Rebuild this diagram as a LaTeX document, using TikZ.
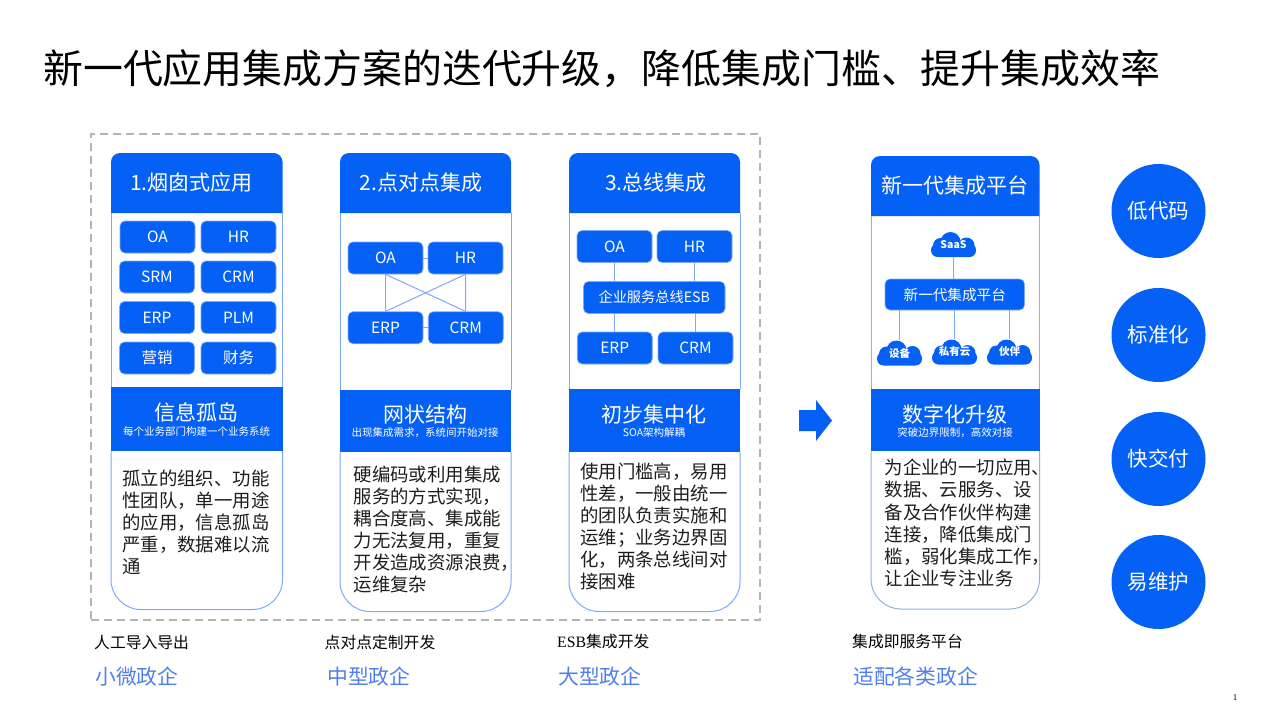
\documentclass[tikz,border=0pt]{standalone}
\usepackage{fontspec}
\setmainfont{Noto Sans CJK SC}
\newfontfamily\latinserif{Liberation Serif}
\definecolor{mainblue}{HTML}{0561F6}
\definecolor{edgeblue}{HTML}{7FAAF5}
\definecolor{edgegray}{HTML}{93B2D6}
\definecolor{dashgray}{HTML}{B4B4B4}
\definecolor{tierblue}{HTML}{4F7FEC}
\definecolor{bodyink}{HTML}{1E1E1E}
\newcommand{\fs}[2]{\fontsize{#1pt}{#2pt}\selectfont}
\tikzset{
  x=1pt,y=-1pt,
  appbox/.style={fill=mainblue,draw=edgeblue,line width=0.6pt,rounded corners=5pt,text=white,font=\fs{15.5}{19},inner sep=0pt,minimum height=32pt,minimum width=75pt},
  wire/.style={draw=edgeblue,line width=1pt},
  headtext/.style={text=white,font=\fs{21}{26},inner sep=0pt},
  bartext/.style={text=white,font=\fs{21}{24},inner sep=0pt},
  subtext/.style={text=white,font=\fs{10.5}{12},inner sep=0pt},
  bodytext/.style={text=bodyink,font=\fs{18.4}{22.1},align=left,anchor=west,inner sep=0pt},
  methodtext/.style={text=black,font=\fs{15.8}{18},anchor=west,inner sep=0pt},
  tiertext/.style={text=tierblue,font=\fs{20.8}{24},anchor=west,inner sep=0pt},
  roundtag/.style={circle,fill=mainblue,text=white,font=\fs{20.5}{24},inner sep=0pt,minimum size=94pt},
  cloudtext/.style={text=white,font=\fs{10.5}{12}\bfseries,inner sep=0pt,minimum width=45pt,minimum height=25pt},
}
% x1 x2 top headerBottom barTop barBottom bottom edgeColour
\newcommand{\panel}[8]{%
  \fill[white] (#1,#4) rectangle (#2,#5);
  \draw[#8,line width=1pt] (#1,#4) -- (#1,#5) (#2,#4) -- (#2,#5);
  \fill[mainblue,rounded corners=9pt] (#1,#4) -- (#1,#3) -- (#2,#3) -- (#2,#4);
  \fill[white] (#1,#6) -- (#2,#6) -- (#2,#7) -- (#1,#7) -- cycle;
  \draw[#8,line width=1pt,rounded corners=30pt] (#1,#6) -- (#1,#7) -- (#2,#7) -- (#2,#6);
  \fill[mainblue] (#1,#5) rectangle (#2,#6);
}
% name x y text
\newcommand{\cloudnode}[4]{%
  \begin{scope}[shift={(#2,#3)}]
    \fill[mainblue,rounded corners=6.5pt] (-22.5,-1) rectangle (22.5,12.5);
    \fill[mainblue] (-3,-2.5) circle (10);
    \fill[mainblue] (-13,1) circle (7.5);
    \fill[mainblue] (13,1) circle (8);
  \end{scope}
  \node[cloudtext] (#1) at (#2,#3) {\raisebox{-1.5pt}{#4}};
}
\begin{document}
\begin{tikzpicture}
\useasboundingbox (0,0) rectangle (1280,720);
\fill[white] (0,0) rectangle (1280,720);

\node[anchor=west,inner sep=0pt,text=black,font=\fs{39.9}{46}] (title) at (43,69) {新一代应用集成方案的迭代升级，降低集成门槛、提升集成效率};

\node[draw=dashgray,line width=1.4pt,dash pattern=on 8pt off 5pt,inner sep=0pt,minimum width=669pt,minimum height=486pt] (frame) at (425.5,377) {};

\panel{111}{282.5}{153}{213}{387}{450.5}{609.5}{edgeblue}
\panel{340}{511}{153}{213}{389.5}{452}{611.5}{edgeblue}
\panel{569}{740}{153}{213}{389}{451.5}{611.5}{edgeblue}
\panel{871}{1039.5}{156}{216}{389}{451}{609}{edgegray}

% column 1
\node[headtext] (h1) at (191.5,183) {1.烟囱式应用};
\node[appbox] (a1) at (157.5,237) {OA};
\node[appbox] (a2) at (238.5,237) {HR};
\node[appbox] (a3) at (157,277) {SRM};
\node[appbox] (a4) at (238.5,277) {CRM};
\node[appbox] (a5) at (157,317.5) {ERP};
\node[appbox] (a6) at (238.5,317.5) {PLM};
\node[appbox] (a7) at (157,358) {营销};
\node[appbox] (a8) at (238.5,358) {财务};
\node[bartext] (b1) at (196,412) {信息孤岛};
\node[subtext] (s1) at (196.5,431) {每个业务部门构建一个业务系统};
\node[bodytext] (t1) at (122,522.5) {孤立的组织、功能\\性团队，单一用途\\的应用，信息孤岛\\严重，数据难以流\\通};

% column 2
\node[headtext] (h2) at (421,183) {2.点对点集成};
\node[appbox] (c1) at (385.5,258) {OA};
\node[appbox] (c2) at (465.5,258) {HR};
\node[appbox] (c3) at (385.5,327.75) {ERP};
\node[appbox] (c4) at (465.75,327.75) {CRM};
\draw[wire] (c1) -- (c2);
\draw[wire] (c3) -- (c4);
\draw[wire] (c1.south) -- (c3.north);
\draw[wire] (c2.south) -- (c4.north);
\draw[wire] (c1.south) -- (c4.north);
\draw[wire] (c2.south) -- (c3.north);
\node[bartext] (b2) at (425,414.5) {网状结构};
\node[subtext] (s2) at (425,433) {出现集成需求，系统间开始对接};
\node[bodytext] (t2) at (353.5,529.5) {硬编码或利用集成\\服务的方式实现，\\耦合度高、集成能\\力无法复用，重复\\开发造成资源浪费，\\运维复杂};

% column 3
\node[headtext] (h3) at (656,183) {3.总线集成};
\node[appbox] (e1) at (614.5,246.5) {OA};
\node[appbox] (e2) at (694.5,246.5) {HR};
\node[appbox,minimum width=141.5pt] (e0) at (654.25,297.5) {\fs{14.2}{18}企业服务总线ESB};
\node[appbox] (e3) at (614.75,348) {ERP};
\node[appbox] (e4) at (695.5,348) {CRM};
\draw[wire] (e1.south) -- (e1.south |- e0.north);
\draw[wire] (e2.south) -- (e2.south |- e0.north);
\draw[wire] (e3.north |- e0.south) -- (e3.north);
\draw[wire] (e4.north |- e0.south) -- (e4.north);
\node[bartext] (b3) at (654,414.5) {初步集中化};
\node[subtext] (s3) at (654,433) {SOA架构解耦};
\node[bodytext] (t3) at (580,526.5) {使用门槛高，易用\\性差，一般由统一\\的团队负责实施和\\运维；业务边界固\\化，两条总线间对\\接困难};

% column 4
\node[headtext] (h4) at (955,186) {新一代集成平台};
\node[appbox,minimum width=139.5pt,minimum height=31pt] (p0) at (954.75,294.5) {\fs{14.6}{18}新一代集成平台};
\cloudnode{c0}{953.5}{244.5}{SaaS}
\cloudnode{d1}{899.5}{353}{设备}
\cloudnode{d2}{954.5}{352}{私有云}
\cloudnode{d3}{1009.5}{352}{伙伴}
\draw[wire] (c0.south) -- (c0.south |- p0.north);
\draw[wire] (d1.north |- p0.south) -- (d1.north);
\draw[wire] (d2.north |- p0.south) -- (d2.north);
\draw[wire] (d3.north |- p0.south) -- (d3.north);
\node[bartext] (b4) at (955,414.5) {数字化升级};
\node[subtext] (s4) at (955,433) {突破边界限制，高效对接};
\node[bodytext] (t4) at (884.5,523) {为企业的一切应用、\\数据、云服务、设\\备及合作伙伴构建\\连接，降低集成门\\槛，弱化集成工作，\\让企业专注业务};

% arrow
\fill[mainblue] (799,410) -- (816,410) -- (816,400) -- (832,420.5) -- (816,441) -- (816,431) -- (799,431) -- cycle;

% round tags
\node[roundtag] (r1) at (1158.5,211) {低代码};
\node[roundtag] (r2) at (1158.5,335) {标准化};
\node[roundtag] (r3) at (1158.5,459) {快交付};
\node[roundtag] (r4) at (1158.5,582) {易维护};

% bottom labels
\node[methodtext] (m1) at (94,642) {人工导入导出};
\node[methodtext] (m2) at (324.5,642) {点对点定制开发};
\node[methodtext] (m3) at (557,642) {{\latinserif ESB}集成开发};
\node[methodtext] (m4) at (852,642) {集成即服务平台};
\node[tiertext] (u1) at (95,677) {小微政企};
\node[tiertext] (u2) at (327,677) {中型政企};
\node[tiertext] (u3) at (558,677) {大型政企};
\node[tiertext] (u4) at (853,677) {适配各类政企};

\node[inner sep=0pt,font=\latinserif\fs{9}{10},text=black] (pg) at (1235,698) {1};
\end{tikzpicture}
\end{document}
